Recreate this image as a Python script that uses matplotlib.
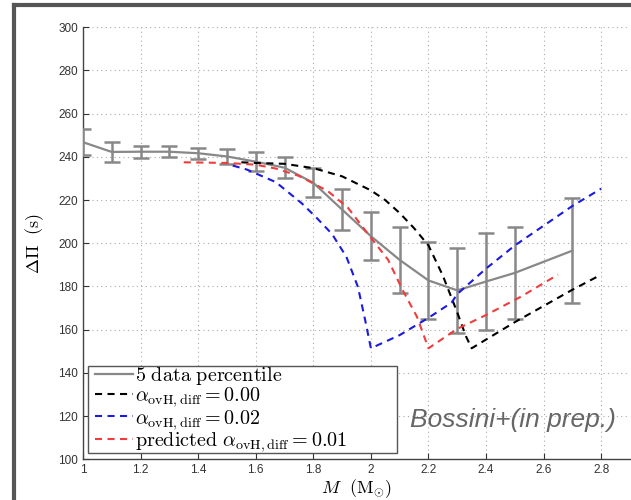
import matplotlib
matplotlib.use("Agg")
import matplotlib.pyplot as plt
from matplotlib.lines import Line2D
from matplotlib.patches import Rectangle

plt.rcParams['mathtext.fontset'] = 'cm'
plt.rcParams['font.family'] = ['Liberation Sans', 'DejaVu Sans']

# ---- data ----
mass_data = [1.0, 1.1, 1.2, 1.3, 1.4, 1.5, 1.6, 1.7, 1.8, 1.9, 2.0, 2.1, 2.2, 2.3, 2.4, 2.5, 2.7]
dp_data = [246.8, 242.3, 242.4, 242.4, 241.7, 240.2, 237.8, 235.0, 228.0, 215.6, 203.3,
           192.3, 182.8, 178.2, 182.3, 186.3, 196.6]
dp_err = [6.0, 4.5, 2.8, 2.5, 2.6, 3.5, 4.3, 4.9, 6.7, 9.4, 11.0, 15.4, 18.0, 19.8, 22.3, 21.3, 24.2]

mass_ov000 = [1.55, 1.6, 1.7, 1.8, 1.9, 2.0, 2.05, 2.1, 2.15, 2.2, 2.25, 2.3, 2.33, 2.35, 2.5, 2.7, 2.8]
dp_ov000 = [237.5, 237.2, 236.8, 234.8, 231.0, 224.5, 220.0, 214.0, 207.0, 199.0, 185.0,
            168.0, 157.0, 151.4, 163.5, 178.5, 185.5]

mass_ov002 = [1.52, 1.57, 1.67, 1.76, 1.81, 1.865, 1.915, 1.955, 1.98, 2.0, 2.1, 2.2, 2.28,
              2.3, 2.4, 2.5, 2.7, 2.8]
dp_ov002 = [236.0, 234.1, 228.3, 218.5, 212.0, 204.3, 193.7, 179.8, 164.5, 151.4, 157.5,
            165.5, 172.5, 176.5, 188.3, 199.0, 217.3, 225.3]

mass_pred = [1.35, 1.5, 1.6, 1.67, 1.75, 1.85, 1.92, 1.99, 2.06, 2.11, 2.16, 2.2, 2.3, 2.4, 2.52, 2.65]
dp_pred = [237.5, 237.2, 236.4, 234.6, 231.2, 224.2, 216.5, 204.3, 192.3, 178.4, 166.0,
           151.4, 160.4, 166.8, 175.2, 185.5]

xticks = [1.0, 1.2, 1.4, 1.6, 1.8, 2.0, 2.2, 2.4, 2.6, 2.8]
xticklabels = ['1', '1.2', '1.4', '1.6', '1.8', '2', '2.2', '2.4', '2.6', '2.8']
yticks = [100, 120, 140, 160, 180, 200, 220, 240, 260, 280, 300]

W, H = 631, 500
fig = plt.figure(figsize=(W / 100, H / 100), dpi=100)
ax = fig.add_axes([83 / W, 1 - 459.3 / H, (630 - 83) / W, (459.3 - 27.3) / H])

gray = '#888888'
ax.errorbar(mass_data, dp_data, yerr=dp_err, color=gray, lw=1.6, elinewidth=1.8,
            capsize=6, capthick=1.8, zorder=3)
dash = (0, (3.4, 2.6))
l0, = ax.plot(mass_ov000, dp_ov000, color='black', lw=1.5, linestyle=dash, zorder=4)
l2, = ax.plot(mass_ov002, dp_ov002, color='#1a1ae0', lw=1.5, linestyle=dash, zorder=4)
l1, = ax.plot(mass_pred, dp_pred, color='#f03c3c', lw=1.5, linestyle=dash, zorder=4)

ax.set_xlim(1.0, 2.9)
ax.set_ylim(100, 300)
ax.set_xticks(xticks)
ax.set_xticklabels(xticklabels)
ax.set_yticks(yticks)
ax.tick_params(direction='in', length=4, labelsize=8.5, colors='#333333', width=0.8)
ax.grid(True, linestyle=(0, (1, 3)), color='#aaaaaa', lw=0.8)
for s in ['top', 'right']:
    ax.spines[s].set_visible(False)
for s in ['left', 'bottom']:
    ax.spines[s].set_color('#444444')
    ax.spines[s].set_linewidth(1.0)

ax.set_xlabel(r'$M\ \ (\mathrm{M}_{\odot})$', fontsize=13, labelpad=1)
ax.set_ylabel(r'$\Delta\Pi\ \ (\mathrm{s})$', fontsize=13, labelpad=9)

# legend box (drawn as a separate rectangle, as in the reference)
ax.add_patch(Rectangle((88 / W, 1 - 453.3 / H), (397 - 88) / W, (453.3 - 365.7) / H,
                       transform=fig.transFigure, facecolor='white', clip_on=False,
                       edgecolor='#555555', lw=1.0, zorder=5))
h_data = Line2D([], [], color=gray, lw=1.6)
handles = [h_data, l0, l2, l1]
labels = [r'$\mathrm{5\ data\ percentile}$',
          r'$\alpha_{\rm ovH,diff}=0.00$',
          r'$\alpha_{\rm ovH,diff}=0.02$',
          r'$\mathrm{predicted}\ \alpha_{\rm ovH,diff}=0.01$']
leg = ax.legend(handles, labels, loc='upper left', bbox_to_anchor=(95 / W, 1 - 365 / H),
                bbox_transform=fig.transFigure, fontsize=14.5, frameon=False,
                borderaxespad=0, handlelength=1.9, handletextpad=0.1,
                labelspacing=-0.08, borderpad=0.0)
leg.set_zorder(6)

ax.text(0.598, 0.091, 'Bossini+(in prep.)', transform=ax.transAxes, fontsize=19,
        style='italic', color='#666666', ha='left', va='center', zorder=7)

# slide frame
fig.add_artist(Line2D([14 / W, 14 / W], [0, 1 - 4.5 / H], transform=fig.transFigure,
                      color='#555555', lw=3.0, solid_capstyle='projecting'))
fig.add_artist(Line2D([14 / W, 1], [1 - 4.5 / H, 1 - 4.5 / H], transform=fig.transFigure,
                      color='#555555', lw=3.0, solid_capstyle='projecting'))

fig.savefig('out.png', dpi=100)
